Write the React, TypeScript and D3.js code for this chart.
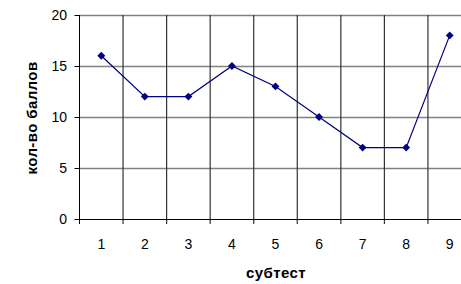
//@ts-nocheck
import { useEffect, useRef } from 'react';
import * as d3 from 'd3';

const categories = ['1', '2', '3', '4', '5', '6', '7', '8', '9'];
const scores = [16, 12, 12, 15, 13, 10, 7, 7, 18];
const yTicks = [0, 5, 10, 15, 20];

const LineChart = () => {
    const svgRef = useRef();

    useEffect(() => {
        const svg = d3.select(svgRef.current);
        svg.selectAll('*').remove();

        const left = 79.5;
        const top = 15;
        const bottom = 219;
        const plotWidth = 392; // extends past the right edge like the original

        const x = d3.scaleBand().domain(categories).range([left, left + plotWidth]);
        const y = d3.scaleLinear().domain([0, 20]).range([bottom, top]);

        const font = 'Liberation Sans, Arial, sans-serif';

        // horizontal gridlines
        svg.append('g')
            .selectAll('line')
            .data(yTicks.filter(d => d > 0))
            .enter()
            .append('line')
            .attr('x1', left)
            .attr('x2', left + plotWidth)
            .attr('y1', d => Math.round(y(d)) + 0.5)
            .attr('y2', d => Math.round(y(d)) + 0.5)
            .attr('stroke', '#808080')
            .attr('stroke-width', 1.5);

        // vertical gridlines at category boundaries, with tick marks below the axis
        svg.append('g')
            .selectAll('line')
            .data(categories.slice(1))
            .enter()
            .append('line')
            .attr('x1', d => x(d))
            .attr('x2', d => x(d))
            .attr('y1', top)
            .attr('y2', bottom + 5)
            .attr('stroke', '#333')
            .attr('stroke-width', 1.2);

        // y axis line and ticks
        svg.append('line')
            .attr('x1', left).attr('x2', left)
            .attr('y1', top).attr('y2', bottom + 5)
            .attr('stroke', '#000');
        svg.append('g')
            .selectAll('line')
            .data(yTicks)
            .enter()
            .append('line')
            .attr('x1', left - 5)
            .attr('x2', left)
            .attr('y1', d => Math.round(y(d)) + 0.5)
            .attr('y2', d => Math.round(y(d)) + 0.5)
            .attr('stroke', '#000');

        // x axis line
        svg.append('line')
            .attr('x1', left).attr('x2', left + plotWidth)
            .attr('y1', bottom + 0.5).attr('y2', bottom + 0.5)
            .attr('stroke', '#000');

        // y tick labels
        svg.append('g')
            .selectAll('text')
            .data(yTicks)
            .enter()
            .append('text')
            .attr('x', 67)
            .attr('y', d => y(d))
            .attr('dy', '0.35em')
            .attr('text-anchor', 'end')
            .style('font-family', font)
            .style('font-size', '14px')
            .text(d => d);

        // x tick labels
        svg.append('g')
            .selectAll('text')
            .data(categories)
            .enter()
            .append('text')
            .attr('x', d => x(d) + x.bandwidth() / 2)
            .attr('y', 244)
            .attr('dy', '0.35em')
            .attr('text-anchor', 'middle')
            .style('font-family', font)
            .style('font-size', '14px')
            .text(d => d);

        // axis titles
        svg.append('text')
            .attr('x', 276)
            .attr('y', 273)
            .attr('dy', '0.35em')
            .attr('text-anchor', 'middle')
            .style('font-family', font)
            .style('font-size', '15px')
            .style('font-weight', 'bold')
            .style('letter-spacing', '0.4px')
            .text('субтест');

        svg.append('text')
            .attr('transform', `translate(32, 118) rotate(-90)`)
            .attr('dy', '0.35em')
            .attr('text-anchor', 'middle')
            .style('font-family', font)
            .style('font-size', '15px')
            .style('font-weight', 'bold')
            .style('letter-spacing', '0.4px')
            .text('кол-во баллов');

        // series line
        const line = d3.line()
            .x((d, i) => x(categories[i]) + x.bandwidth() / 2)
            .y(d => y(d));

        svg.append('path')
            .datum(scores)
            .attr('d', line)
            .attr('fill', 'none')
            .attr('stroke', '#000080')
            .attr('stroke-width', 1.2);

        // diamond markers
        const diamond = d3.symbol().type(d3.symbolDiamond2).size(40);
        svg.append('g')
            .selectAll('path')
            .data(scores)
            .enter()
            .append('path')
            .attr('d', diamond)
            .attr('transform', (d, i) => `translate(${x(categories[i]) + x.bandwidth() / 2}, ${y(d)})`)
            .attr('fill', '#000080');
    }, []);

    return <svg ref={svgRef} width={461} height={284} style={{ display: 'block' }}></svg>;
};

export default function App() {
    return (
        <div style={{ position: 'fixed', left: 0, top: 0, width: 461, height: 284, overflow: 'hidden', background: '#fff' }}>
            <LineChart />
        </div>
    );
}
